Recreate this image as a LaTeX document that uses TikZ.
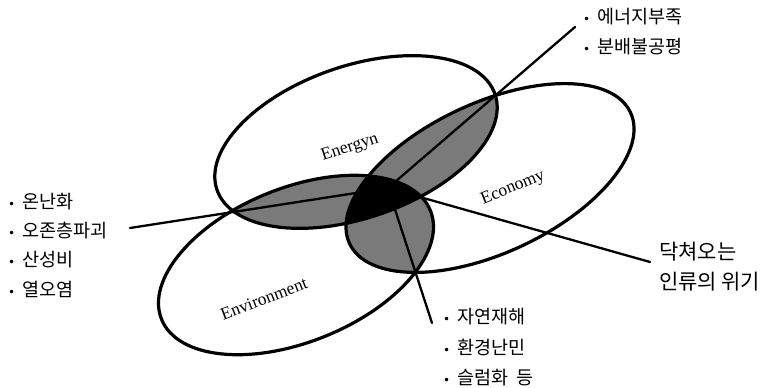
\documentclass[tikz,border=0pt]{standalone}
\usepackage{fontspec}
\newfontfamily\kr{Noto Sans CJK KR}
\newfontfamily\tms{Liberation Serif}
\newfontfamily\djv{DejaVu Sans}
\begin{document}
\begin{tikzpicture}[x=1pt,y=-1pt,
  ell/.style={line width=3.2pt},
  lens/.style={fill=black!52},
  core/.style={fill=black},
  ray/.style={line width=2.3pt, line cap=round},
  lbl/.style={font=\tms\fontsize{17.5}{18}\selectfont, inner sep=0pt},
  item/.style={anchor=west, inner sep=0pt, font=\kr\fontsize{18.5}{20}\selectfont},
  bigitem/.style={anchor=west, inner sep=0pt, font=\kr\fontsize{21}{22}\selectfont}]
\useasboundingbox (0,0) rectangle (769,388);
\newcommand\bul{\makebox[14pt][l]{\djv\fontsize{12}{12}\selectfont •}}

% lenses
\begin{scope}
  \clip[rotate around={19:(356,142)}] (356,142) ellipse [x radius=147pt, y radius=76pt];
  \fill[lens, rotate around={22:(296,265)}] (296,265) ellipse [x radius=145pt, y radius=77pt];
  \fill[lens, rotate around={25:(490,178)}] (490,178) ellipse [x radius=155pt, y radius=75pt];
\end{scope}
\begin{scope}
  \clip[rotate around={22:(296,265)}] (296,265) ellipse [x radius=145pt, y radius=77pt];
  \fill[lens, rotate around={25:(490,178)}] (490,178) ellipse [x radius=155pt, y radius=75pt];
  \clip[rotate around={19:(356,142)}] (356,142) ellipse [x radius=147pt, y radius=76pt];
  \fill[core, rotate around={25:(490,178)}] (490,178) ellipse [x radius=155pt, y radius=75pt];
\end{scope}

% ellipses
\draw[ell, rotate around={19:(356,142)}] (356,142) ellipse [x radius=147pt, y radius=76pt];
\draw[ell, rotate around={22:(296,265)}] (296,265) ellipse [x radius=145pt, y radius=77pt];
\draw[ell, rotate around={25:(490,178)}] (490,178) ellipse [x radius=155pt, y radius=75pt];

% rays
\coordinate (ctr) at (388,188);
\coordinate (eL) at (130,228);
\coordinate (eUR) at (575,27);
\coordinate (eLR) at (650,262);
\coordinate (eD) at (432,323);
\draw[ray] (ctr) -- (eL);
\draw[ray] (ctr) -- (eUR);
\draw[ray] (ctr) -- (eLR);
\draw[ray] (ctr) -- (eD);

% labels in ellipses
\node[lbl, rotate=18] (en) at (350,148) {Energyn};
\node[lbl, rotate=22] (ec) at (513,188) {Economy};
\node[lbl, rotate=21] (env) at (264,299) {Environment};

% lists
\node[item] (t1) at (583,17) {\bul 에너지부족};
\node[item] (t2) at (583,47) {\bul 분배불공평};

\node[item] (l1) at (8,202) {\bul 온난화};
\node[item] (l2) at (8,231) {\bul 오존층파괴};
\node[item] (l3) at (8,260) {\bul 산성비};
\node[item] (l4) at (8,289) {\bul 열오염};

\node[item] (b1) at (443,317) {\bul 자연재해};
\node[item] (b2) at (443,348) {\bul 환경난민};
\node[item] (b3) at (443,378) {\bul 슬럼화\hspace{0.45em}등};

\node[bigitem] (r1) at (659,252) {닥쳐오는};
\node[bigitem] (r2) at (659,282) {인류의\hspace{0.2em}위기};
\end{tikzpicture}
\end{document}
